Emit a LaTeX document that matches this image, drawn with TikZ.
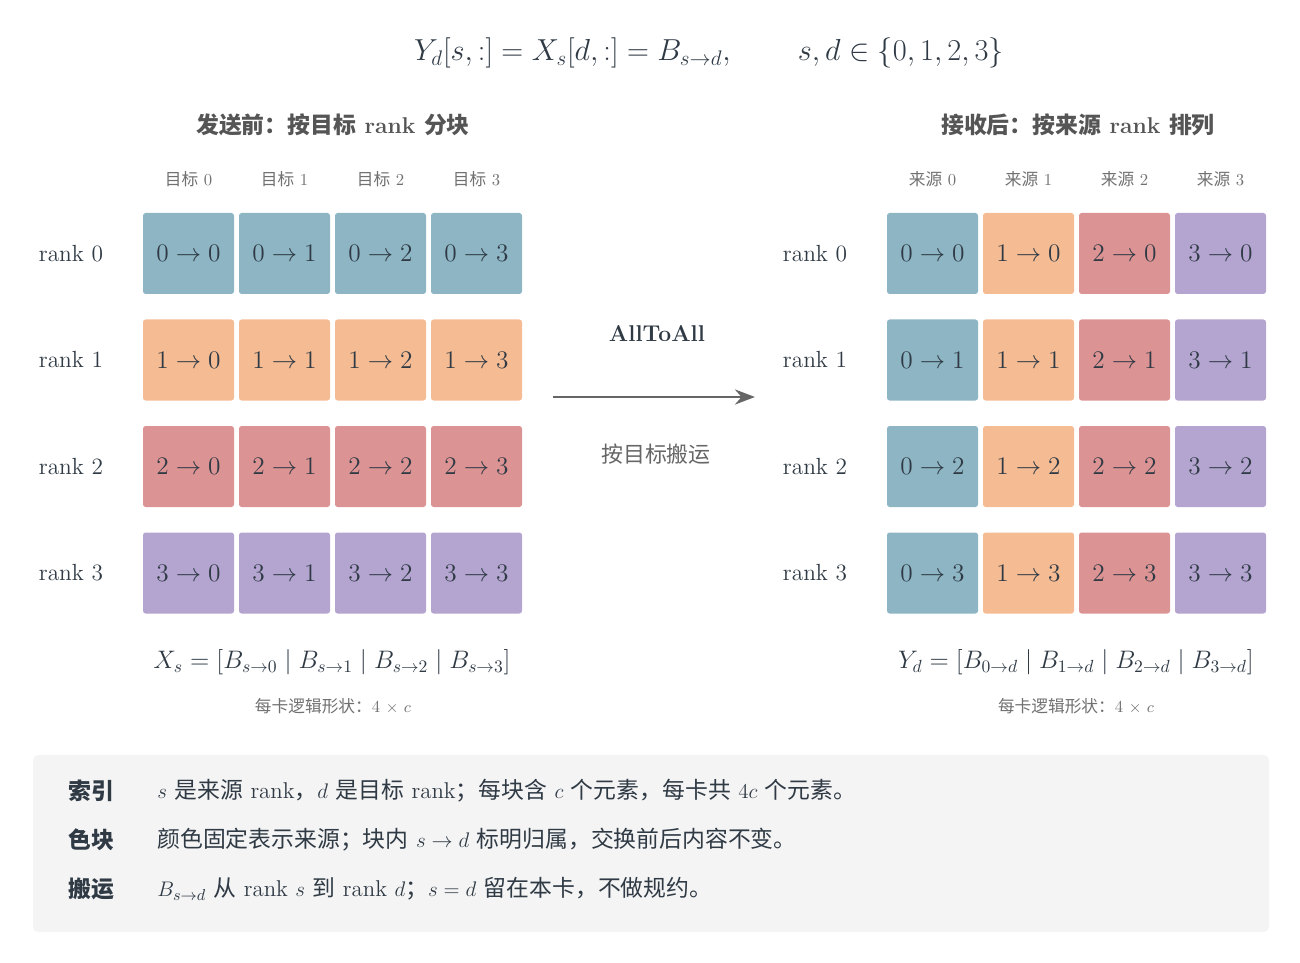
\documentclass[tikz,border=0pt]{standalone}
\usepackage{amsmath}
\usepackage{amssymb}
\usepackage{fontspec}
\usepackage{tikz}
\usetikzlibrary{arrows,arrows.meta,positioning}
\newfontfamily\cjkfont{Noto Sans CJK SC}
\newcommand{\zh}[1]{{\cjkfont #1}}
\definecolor{ink}{HTML}{2F3A45}
\definecolor{headgray}{HTML}{555555}
\definecolor{notegray}{HTML}{707070}
\definecolor{arrowgray}{HTML}{666666}
\definecolor{srczero}{HTML}{8DB5C3}
\definecolor{srcone}{HTML}{F5BC94}
\definecolor{srctwo}{HTML}{DC9393}
\definecolor{srcthree}{HTML}{B4A5D0}
\definecolor{panelbg}{HTML}{F4F4F4}

\begin{document}
\begin{tikzpicture}[>=stealth, node distance=1mm]
		\tikzstyle{cell} = [rectangle, rounded corners=1.5pt, minimum width=1.82cm, minimum height=1.62cm, inner sep=0pt, outer sep=0pt, text=ink, font=\fontsize{13.5}{15}\selectfont]
		\tikzstyle{ranklbl} = [text=ink, font=\fontsize{13.3}{15}\selectfont]
		\tikzstyle{collbl} = [text=notegray, font=\fontsize{9.5}{11}\selectfont]
		\tikzstyle{heading} = [text=headgray, font=\fontsize{13}{15}\selectfont\bfseries]
		\tikzstyle{formula} = [text=ink, font=\fontsize{14.5}{17}\selectfont]
		\tikzstyle{keyword} = [anchor=west, inner sep=0pt, text=ink, font=\fontsize{13}{15}\selectfont\bfseries]
		\tikzstyle{keytext} = [anchor=west, inner sep=0pt, text=ink, font=\fontsize{13}{15}\selectfont]

		\useasboundingbox (0,0) rectangle (26,-19.26);

		% title
		\node[text=ink, font=\fontsize{17.7}{20}\selectfont] (title) at (14.18,-1.06)
			{$Y_d[s,:] = X_s[d,:] = B_{s\to d},\qquad s,d \in \{0,1,2,3\}$};

		% left: before sending
		\node[heading] (headL) at (6.66,-2.5) {\zh{发送前：按目标} rank \zh{分块}};

		\path
		node[cell, fill=srczero] (l00) at (3.77,-5.07) {$0\to0$}
		node[cell, fill=srczero, right=of l00] (l01) {$0\to1$}
		node[cell, fill=srczero, right=of l01] (l02) {$0\to2$}
		node[cell, fill=srczero, right=of l02] (l03) {$0\to3$}

		node[cell, fill=srcone, below=5.1mm of l00] (l10) {$1\to0$}
		node[cell, fill=srcone, right=of l10] (l11) {$1\to1$}
		node[cell, fill=srcone, right=of l11] (l12) {$1\to2$}
		node[cell, fill=srcone, right=of l12] (l13) {$1\to3$}

		node[cell, fill=srctwo, below=5.1mm of l10] (l20) {$2\to0$}
		node[cell, fill=srctwo, right=of l20] (l21) {$2\to1$}
		node[cell, fill=srctwo, right=of l21] (l22) {$2\to2$}
		node[cell, fill=srctwo, right=of l22] (l23) {$2\to3$}

		node[cell, fill=srcthree, below=5.1mm of l20] (l30) {$3\to0$}
		node[cell, fill=srcthree, right=of l30] (l31) {$3\to1$}
		node[cell, fill=srcthree, right=of l31] (l32) {$3\to2$}
		node[cell, fill=srcthree, right=of l32] (l33) {$3\to3$}
		;

		\node[collbl] (lc0) at (l00.center |- 0,-3.58) {\zh{目标} 0};
		\node[collbl] (lc1) at (l01.center |- 0,-3.58) {\zh{目标} 1};
		\node[collbl] (lc2) at (l02.center |- 0,-3.58) {\zh{目标} 2};
		\node[collbl] (lc3) at (l03.center |- 0,-3.58) {\zh{目标} 3};

		\node[ranklbl] (lr0) at (1.42,0 |- l00) {rank 0};
		\node[ranklbl] (lr1) at (1.42,0 |- l10) {rank 1};
		\node[ranklbl] (lr2) at (1.42,0 |- l20) {rank 2};
		\node[ranklbl] (lr3) at (1.42,0 |- l30) {rank 3};

		\node[formula] (fmlL) at (6.64,-13.24) {$X_s = [B_{s\to0} \mid B_{s\to1} \mid B_{s\to2} \mid B_{s\to3}]$};
		\node[collbl] (shapeL) at (6.66,-14.12) {\zh{每卡逻辑形状：}4 $\times$ $c$};

		% middle arrow
		\coordinate (aStart) at (11.06,-7.94);
		\coordinate (aEnd) at (15.1,-7.94);
		\draw[-{Stealth[length=4mm, width=3mm, inset=1.3mm]}, line width=1.6pt, arrowgray] (aStart) -- (aEnd);
		\node[text=ink, font=\fontsize{13}{15}\selectfont\bfseries] (allall) at (13.14,-6.68) {AllToAll};
		\node[text=arrowgray, font=\fontsize{12.5}{15}\selectfont] (move) at (13.12,-9.08) {\zh{按目标搬运}};

		% right: after receiving
		\node[heading] (headR) at (21.56,-2.5) {\zh{接收后：按来源} rank \zh{排列}};

		\path
		node[cell, fill=srczero] (r00) at (18.65,-5.07) {$0\to0$}
		node[cell, fill=srcone, right=of r00] (r01) {$1\to0$}
		node[cell, fill=srctwo, right=of r01] (r02) {$2\to0$}
		node[cell, fill=srcthree, right=of r02] (r03) {$3\to0$}

		node[cell, fill=srczero, below=5.1mm of r00] (r10) {$0\to1$}
		node[cell, fill=srcone, right=of r10] (r11) {$1\to1$}
		node[cell, fill=srctwo, right=of r11] (r12) {$2\to1$}
		node[cell, fill=srcthree, right=of r12] (r13) {$3\to1$}

		node[cell, fill=srczero, below=5.1mm of r10] (r20) {$0\to2$}
		node[cell, fill=srcone, right=of r20] (r21) {$1\to2$}
		node[cell, fill=srctwo, right=of r21] (r22) {$2\to2$}
		node[cell, fill=srcthree, right=of r22] (r23) {$3\to2$}

		node[cell, fill=srczero, below=5.1mm of r20] (r30) {$0\to3$}
		node[cell, fill=srcone, right=of r30] (r31) {$1\to3$}
		node[cell, fill=srctwo, right=of r31] (r32) {$2\to3$}
		node[cell, fill=srcthree, right=of r32] (r33) {$3\to3$}
		;

		\node[collbl] (rc0) at (r00.center |- 0,-3.58) {\zh{来源} 0};
		\node[collbl] (rc1) at (r01.center |- 0,-3.58) {\zh{来源} 1};
		\node[collbl] (rc2) at (r02.center |- 0,-3.58) {\zh{来源} 2};
		\node[collbl] (rc3) at (r03.center |- 0,-3.58) {\zh{来源} 3};

		\node[ranklbl] (rr0) at (16.3,0 |- r00) {rank 0};
		\node[ranklbl] (rr1) at (16.3,0 |- r10) {rank 1};
		\node[ranklbl] (rr2) at (16.3,0 |- r20) {rank 2};
		\node[ranklbl] (rr3) at (16.3,0 |- r30) {rank 3};

		\node[formula] (fmlR) at (21.52,-13.24) {$Y_d = [B_{0\to d} \mid B_{1\to d} \mid B_{2\to d} \mid B_{3\to d}]$};
		\node[collbl] (shapeR) at (21.52,-14.12) {\zh{每卡逻辑形状：}4 $\times$ $c$};

		% legend panel
		\fill[panelbg, rounded corners=3pt] (0.66,-15.1) rectangle (25.38,-18.64);

		\node[keyword] (kIdx) at (1.36,-15.82) {\zh{索引}};
		\node[keyword] (kCol) at (1.36,-16.8) {\zh{色块}};
		\node[keyword] (kMov) at (1.36,-17.78) {\zh{搬运}};

		\node[keytext] (tIdx) at (3.14,-15.82) {$s$ \zh{是来源} rank\zh{，}$d$ \zh{是目标} rank\zh{；每块含} $c$ \zh{个元素，每卡共} $4c$ \zh{个元素。}};
		\node[keytext] (tCol) at (3.14,-16.8) {\zh{颜色固定表示来源；块内} $s\to d$ \zh{标明归属，交换前后内容不变。}};
		\node[keytext] (tMov) at (3.14,-17.78) {$B_{s\to d}$ \zh{从} rank $s$ \zh{到} rank $d$\zh{；}$s=d$ \zh{留在本卡，不做规约。}};
\end{tikzpicture}
\end{document}
